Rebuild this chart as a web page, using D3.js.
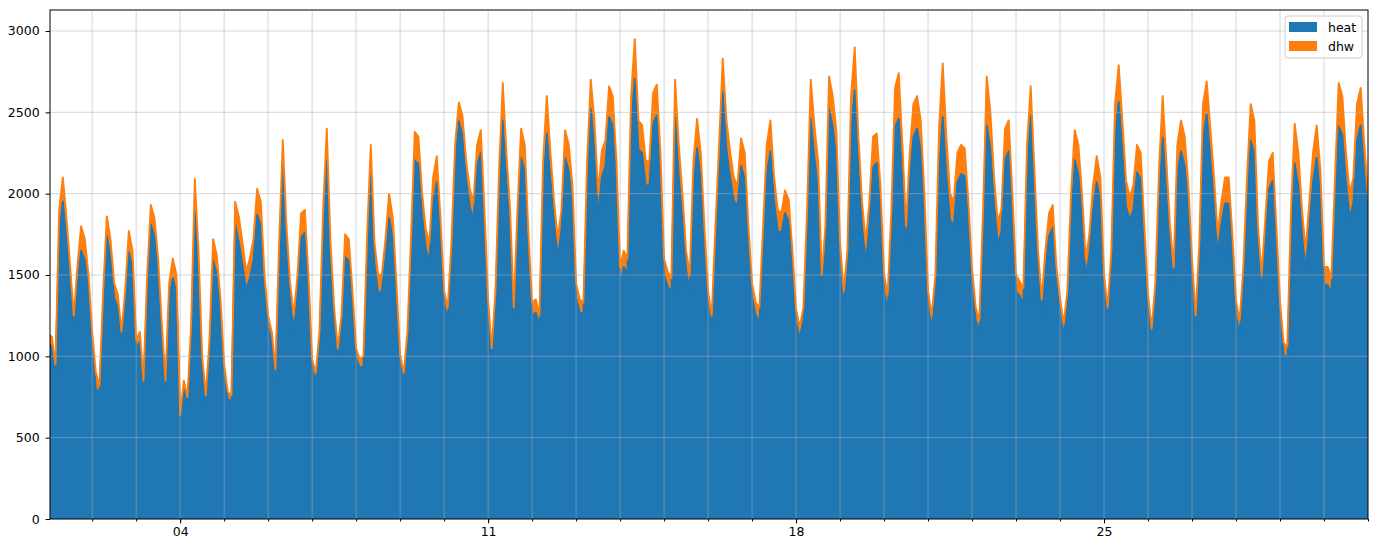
<!DOCTYPE html>
<html>
<head>
<meta charset="utf-8">
<script src="https://d3js.org/d3.v7.min.js"></script>
<style>
body { margin: 0; background: #fff; }
text { font-family: "DejaVu Sans", sans-serif; }
</style>
</head>
<body>
<div id="my_dataviz"></div>
<script>
// 2-hourly readings, one row per day (00h, 02h, ... 22h), last value = day 31 00h
var heat = [
  1080,1060,900,1750,1950,1720,1440,1170,1430,1650,1590,1400,
  1090,800,780,1280,1740,1610,1360,1300,1100,1300,1640,1540,
  1050,1090,810,1390,1810,1740,1500,1130,800,1350,1480,1390,
  610,790,710,1100,1890,1500,930,720,1020,1590,1500,1260,
  900,740,720,1810,1700,1560,1410,1480,1590,1870,1800,1400,
  1180,1090,870,1570,2170,1660,1340,1160,1390,1730,1760,1400,
  920,850,1080,1750,2205,1570,1200,980,1160,1610,1590,1310,
  990,930,940,1610,2115,1570,1390,1400,1600,1850,1720,1350,
  950,850,1080,1610,2205,2180,1860,1660,1590,1940,2070,1730,
  1320,1230,1600,2180,2445,2360,2080,1920,1840,2170,2250,1790,
  1260,990,1320,1980,2450,2090,1770,1220,1760,2220,2140,1630,
  1250,1270,1180,2030,2370,2090,1820,1610,1770,2220,2140,1920,
  1360,1270,1260,2030,2520,2280,1860,2100,2170,2470,2420,2060,
  1450,1550,1510,2400,2705,2270,2250,2050,2050,2430,2480,2100,
  1500,1430,1390,2470,2110,1840,1530,1400,2030,2280,2090,1680,
  1310,1180,1680,2120,2625,2270,2100,1960,1920,2170,2090,1680,
  1360,1250,1220,1660,2120,2260,1950,1770,1760,1880,1830,1550,
  1210,1110,1220,1750,2460,2220,2030,1400,1670,2520,2410,2210,
  1590,1310,1540,2380,2634,2160,1800,1580,1800,2160,2190,1900,
  1400,1290,1760,2410,2460,2100,1660,2070,2350,2400,2260,1860,
  1310,1170,1400,2140,2470,2100,1840,1800,2070,2120,2110,1820,
  1440,1220,1150,1730,2420,2270,1940,1700,1760,2210,2260,1860,
  1400,1370,1330,2120,2475,1990,1530,1260,1530,1740,1790,1450,
  1270,1130,1310,1840,2205,2120,1850,1490,1620,1900,2070,1960,
  1400,1220,1540,2340,2564,2260,1920,1840,1900,2130,2090,1680,
  1290,1100,1350,1960,2345,2010,1660,1440,2120,2260,2170,1910,
  1490,1170,1580,2340,2485,2210,1940,1630,1810,1940,1940,1630,
  1250,1140,1440,1920,2324,2250,1660,1390,1710,2030,2080,1670,
  1250,1010,990,1730,2184,2050,1750,1530,1800,2070,2220,1990,
  1440,1440,1380,1910,2414,2360,2070,1850,1940,2330,2420,2120,
  1870
];

var dhw = [
  60,60,50,150,150,130,110,80,130,150,130,100,
  60,100,40,120,120,110,90,80,50,100,130,110,
  50,60,40,110,120,110,100,70,50,100,120,110,
  30,60,40,100,200,150,70,40,80,130,120,90,
  50,40,40,140,160,140,110,120,130,160,150,100,
  70,60,50,130,160,140,110,90,110,150,140,100,
  60,50,70,150,195,130,100,70,90,140,130,90,
  60,50,60,140,185,130,110,100,120,150,130,100,
  60,50,70,140,175,170,140,120,110,160,160,120,
  80,70,100,120,115,120,120,110,110,130,140,110,
  90,60,80,170,230,160,130,80,140,180,160,120,
  80,80,70,170,230,160,130,110,130,170,160,130,
  90,80,70,170,180,170,140,160,160,190,180,140,
  100,100,90,200,245,180,170,150,150,190,190,150,
  100,90,90,230,190,160,120,100,170,180,160,120,
  90,70,120,180,205,180,160,140,130,170,160,120,
  90,80,80,140,180,190,150,130,120,140,130,100,
  80,70,80,150,240,200,170,100,130,200,190,170,
  110,90,110,220,266,190,150,120,150,190,180,150,
  100,90,140,240,280,200,140,180,200,200,190,140,
  90,80,100,260,330,250,160,150,180,180,170,130,
  100,80,70,170,300,230,160,130,140,190,190,140,
  100,90,90,180,185,160,120,90,120,140,140,100,
  90,70,90,160,185,180,150,110,130,150,160,140,
  100,80,110,210,226,190,160,140,150,170,160,120,
  90,70,100,190,255,190,140,110,180,190,180,140,
  110,80,120,210,205,190,160,120,140,160,160,120,
  90,80,110,180,226,200,140,110,140,170,170,130,
  90,70,70,170,246,200,150,120,150,180,200,160,
  110,110,100,190,266,240,180,150,160,220,230,180,
  130
];

var seriesNames = ["heat", "dhw"];
var seriesColors = ["#1f77b4", "#ff7f0e"];
var yTicks = [0, 500, 1000, 1500, 2000, 2500, 3000];
var majorDays = [4, 11, 18, 25];
var majorLabels = ["04", "11", "18", "25"];

// set the dimensions and margins of the graph
var margin = {top: 10, right: 7, bottom: 19, left: 50},
    width = 1375 - margin.left - margin.right,
    height = 538 - margin.top - margin.bottom;

// rows for the stack
var data = heat.map(function(h, i) {
  return {date: new Date(2021, 0, 1, 2 * i), heat: h, dhw: dhw[i]};
});

var svg = d3.select("#my_dataviz")
  .append("svg")
    .attr("width", width + margin.left + margin.right)
    .attr("height", height + margin.top + margin.bottom)
  .append("g")
    .attr("transform", "translate(" + margin.left + "," + margin.top + ")");

svg.append("clipPath")
    .attr("id", "clip")
  .append("rect")
    .attr("width", width)
    .attr("height", height);

// scales
var x = d3.scaleTime()
  .domain([new Date(2021, 0, 1, 1), new Date(2021, 0, 31, 0)])
  .range([0, width]);

var y = d3.scaleLinear()
  .domain([0, 3129])
  .range([height, 0]);

// stacked areas
var stacked = d3.stack().keys(seriesNames)(data);

var area = d3.area()
  .x(function(d) { return x(d.data.date); })
  .y0(function(d) { return y(d[0]); })
  .y1(function(d) { return y(d[1]); });

var topLine = d3.line()
  .x(function(d) { return x(d.data.date); })
  .y(function(d) { return y(d[1]); });

var plot = svg.append("g").attr("clip-path", "url(#clip)");

plot.selectAll(".area")
  .data(stacked)
  .enter()
  .append("path")
    .attr("fill", function(d, i) { return seriesColors[i]; })
    .attr("d", area);

plot.selectAll(".topline")
  .data(stacked)
  .enter()
  .append("path")
    .attr("fill", "none")
    .attr("stroke", function(d, i) { return seriesColors[i]; })
    .attr("stroke-width", 1.9)
    .attr("stroke-linejoin", "round")
    .attr("d", topLine);

// grid, drawn over the areas like the original
var days = d3.timeDay.range(new Date(2021, 0, 2), new Date(2021, 0, 31));
svg.append("g")
  .selectAll("line")
  .data(days)
  .enter()
  .append("line")
    .attr("x1", function(d) { return x(d); })
    .attr("x2", function(d) { return x(d); })
    .attr("y1", 0)
    .attr("y2", height)
    .attr("stroke", "#b0b0b0")
    .attr("stroke-opacity", 0.5)
    .attr("stroke-width", 1);

svg.append("g")
  .selectAll("line")
  .data(yTicks.slice(1))
  .enter()
  .append("line")
    .attr("x1", 0)
    .attr("x2", width)
    .attr("y1", function(d) { return y(d); })
    .attr("y2", function(d) { return y(d); })
    .attr("stroke", "#b0b0b0")
    .attr("stroke-opacity", 0.5)
    .attr("stroke-width", 1);

// minor x ticks: every day
var minorAxis = svg.append("g")
  .attr("transform", "translate(0," + height + ")")
  .call(d3.axisBottom(x)
    .tickValues(d3.timeDay.range(new Date(2021, 0, 2), new Date(2021, 0, 32)))
    .tickSize(2.5)
    .tickFormat(""));
minorAxis.select(".domain").remove();

// major x ticks with day labels
var majorDates = majorDays.map(function(d) { return new Date(2021, 0, d); });
var xAxis = svg.append("g")
  .attr("transform", "translate(0," + height + ")")
  .call(d3.axisBottom(x)
    .tickValues(majorDates)
    .tickSize(4.4)
    .tickPadding(3.6)
    .tickFormat(function(d, i) { return majorLabels[i]; }));
xAxis.select(".domain").remove();
xAxis.selectAll("text")
  .style("font-size", "12.5px")
  .attr("fill", "#000");

// Y axis
var yAxis = svg.append("g")
  .call(d3.axisLeft(y)
    .tickValues(yTicks)
    .tickSize(4.4)
    .tickPadding(6)
    .tickFormat(d3.format("d")));
yAxis.select(".domain").remove();
yAxis.selectAll("text")
  .style("font-size", "12.5px")
  .attr("fill", "#000");

// frame
svg.append("rect")
  .attr("width", width)
  .attr("height", height)
  .attr("fill", "none")
  .attr("stroke", "#000")
  .attr("stroke-width", 1);

// legend
var legend = svg.append("g")
  .attr("transform", "translate(" + (width - 83) + ",6)");

legend.append("rect")
  .attr("width", 77)
  .attr("height", 42)
  .attr("rx", 3)
  .attr("fill", "#fff")
  .attr("fill-opacity", 0.8)
  .attr("stroke", "#cccccc")
  .attr("stroke-width", 1);

seriesNames.forEach(function(name, i) {
  legend.append("rect")
    .attr("x", 4)
    .attr("y", 6 + i * 19)
    .attr("width", 28)
    .attr("height", 10)
    .attr("fill", seriesColors[i]);
  legend.append("text")
    .attr("x", 43)
    .attr("y", 16 + i * 19)
    .style("font-size", "12.5px")
    .attr("fill", "#000")
    .text(name);
});
</script>
</body>
</html>
